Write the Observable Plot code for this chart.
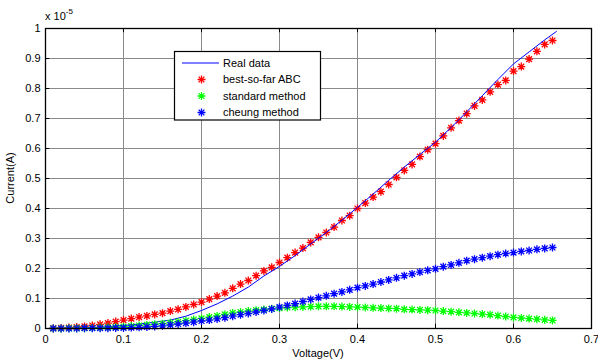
<!DOCTYPE html>
<html><head><meta charset="utf-8">
<script src="https://cdn.jsdelivr.net/npm/d3@7"></script>
<script src="https://cdn.jsdelivr.net/npm/@observablehq/plot@0.6"></script>
<style>body{margin:0;background:#fff} svg{display:block}</style>
</head><body><div id="chart"></div>
<script>
// Voltage samples (V) for the fitted series
const voltage = [0.01,0.02,0.03,0.04,0.05,0.06,0.07,0.08,0.09,0.10,0.11,0.12,0.13,0.14,0.15,0.16,0.17,0.18,0.19,0.20,0.21,0.22,0.23,0.24,0.25,0.26,0.27,0.28,0.29,0.30,0.31,0.32,0.33,0.34,0.35,0.36,0.37,0.38,0.39,0.40,0.41,0.42,0.43,0.44,0.45,0.46,0.47,0.48,0.49,0.50,0.51,0.52,0.53,0.54,0.55,0.56,0.57,0.58,0.59,0.60,0.61,0.62,0.63,0.64,0.65];
// Currents in units of 1e-5 A
const bestABC = [0.001,0.002,0.003,0.005,0.007,0.010,0.014,0.018,0.023,0.028,0.033,0.038,0.042,0.047,0.051,0.058,0.064,0.072,0.080,0.088,0.098,0.108,0.119,0.134,0.148,0.160,0.176,0.192,0.204,0.220,0.236,0.253,0.268,0.287,0.304,0.320,0.338,0.360,0.376,0.400,0.418,0.438,0.456,0.480,0.504,0.527,0.547,0.573,0.596,0.616,0.642,0.669,0.693,0.716,0.742,0.762,0.789,0.813,0.827,0.858,0.873,0.898,0.924,0.947,0.960];
const standard = [0.000,0.000,0.001,0.001,0.001,0.002,0.003,0.004,0.005,0.006,0.008,0.010,0.012,0.014,0.016,0.019,0.022,0.026,0.030,0.034,0.038,0.042,0.047,0.052,0.055,0.058,0.061,0.063,0.066,0.068,0.070,0.071,0.072,0.073,0.074,0.074,0.074,0.073,0.072,0.071,0.070,0.069,0.068,0.067,0.066,0.064,0.063,0.062,0.061,0.060,0.058,0.056,0.054,0.052,0.050,0.048,0.046,0.043,0.040,0.037,0.035,0.033,0.031,0.029,0.027];
const cheung = [0.000,0.000,0.000,0.000,0.001,0.001,0.001,0.001,0.002,0.002,0.003,0.004,0.005,0.007,0.009,0.012,0.015,0.018,0.021,0.025,0.028,0.032,0.036,0.041,0.046,0.050,0.055,0.060,0.065,0.071,0.077,0.083,0.090,0.097,0.103,0.109,0.116,0.122,0.129,0.136,0.142,0.148,0.155,0.162,0.169,0.176,0.182,0.188,0.194,0.199,0.206,0.212,0.219,0.226,0.231,0.236,0.241,0.246,0.250,0.253,0.257,0.260,0.264,0.267,0.270];
// Real (measured) data
const realV = [0,0.02,0.04,0.06,0.08,0.10,0.12,0.14,0.16,0.18,0.20,0.22,0.24,0.26,0.28,0.30,0.32,0.34,0.36,0.38,0.40,0.42,0.44,0.46,0.48,0.50,0.52,0.54,0.56,0.58,0.60,0.62,0.64,0.655];
const realI = [0,0.0005,0.001,0.003,0.006,0.010,0.015,0.021,0.028,0.041,0.060,0.082,0.108,0.138,0.175,0.207,0.243,0.282,0.320,0.361,0.404,0.448,0.494,0.538,0.580,0.621,0.670,0.722,0.776,0.830,0.882,0.922,0.962,0.990];
// Axis ticks
const xTicks = [0,0.1,0.2,0.3,0.4,0.5,0.6,0.7];
const xTickLabels = ["0","0.1","0.2","0.3","0.4","0.5","0.6","0.7"];
const yTicks = [0,0.1,0.2,0.3,0.4,0.5,0.6,0.7,0.8,0.9,1];
const yTickLabels = ["0","0.1","0.2","0.3","0.4","0.5","0.6","0.7","0.8","0.9","1"];
const legendLabels = ["Real data","best-so-far ABC","standard method","cheung method"];

const fontFamily = "'Liberation Sans', Arial, Helvetica, sans-serif";
const star = {draw(ctx, size){
  const r = Math.sqrt(size/Math.PI), d = r*0.72;
  ctx.moveTo(-r,0); ctx.lineTo(r,0);
  ctx.moveTo(0,-r); ctx.lineTo(0,r);
  ctx.moveTo(-d,-d); ctx.lineTo(d,d);
  ctx.moveTo(-d,d); ctx.lineTo(d,-d);
}};

const pts = (ys) => voltage.map((v,i) => ({v, c: ys[i]}));
const real = realV.map((v,i) => ({v, c: realI[i]}));
const gridColor = "#8a8a8a";

const plot = Plot.plot({
  width: 598, height: 363,
  marginLeft: 45, marginRight: 7, marginTop: 28, marginBottom: 35,
  x: {domain: [0, 0.7]},
  y: {domain: [0, 1]},
  style: {fontFamily, fontSize: "11px", background: "white", color: "black"},
  marks: [
    Plot.ruleX(xTicks, {x: d => d, y1: 0, y2: 1, stroke: gridColor, strokeWidth: 1}),
    Plot.ruleY(yTicks, {y: d => d, x1: 0, x2: 0.7, stroke: gridColor, strokeWidth: 1}),
    Plot.ruleX(xTicks, {x: d => d, y1: 0, y2: 0.014, stroke: "black"}),
    Plot.ruleX(xTicks, {x: d => d, y1: 1, y2: 0.986, stroke: "black"}),
    Plot.ruleY(yTicks, {y: d => d, x1: 0, x2: 0.0055, stroke: "black"}),
    Plot.ruleY(yTicks, {y: d => d, x1: 0.7, x2: 0.6945, stroke: "black"}),
    Plot.dot(pts(bestABC), {x: "v", y: "c", symbol: star, r: 4, stroke: "#ff0000", fill: "none", strokeWidth: 1.3}),
    Plot.line(real, {x: "v", y: "c", stroke: "#0000ff", strokeWidth: 1}),
    Plot.dot(pts(standard), {x: "v", y: "c", symbol: star, r: 4, stroke: "#00ff00", fill: "none", strokeWidth: 1.3}),
    Plot.dot(pts(cheung), {x: "v", y: "c", symbol: star, r: 4, stroke: "#0000ff", fill: "none", strokeWidth: 1.3}),
    Plot.frame({stroke: "black", strokeWidth: 1.3}),
    Plot.axisX(xTicks, {tickSize: 0, tickPadding: 7, fontSize: 11, label: null, tickFormat: d => xTickLabels[xTicks.indexOf(d)]}),
    Plot.axisY(yTicks, {tickSize: 0, tickPadding: 5, fontSize: 11, label: null, tickFormat: d => yTickLabels[yTicks.indexOf(d)]})
  ]
});
document.getElementById("chart").appendChild(plot);

const svg = d3.select(plot);
const g = svg.append("g").attr("font-family", fontFamily).attr("font-size", 11).attr("fill", "black");
// axis labels
g.append("text").attr("x", 318).attr("y", 357).attr("text-anchor", "middle").text("Voltage(V)");
g.append("text").attr("transform", "translate(14,178) rotate(-90)").attr("text-anchor", "middle").text("Current(A)");
// exponent
const ex = g.append("text").attr("x", 45).attr("y", 20).attr("text-anchor", "start");
ex.append("tspan").text("x 10");
ex.append("tspan").attr("font-size", 8).attr("dy", -6).text("-5");

// legend
const lg = svg.append("g").attr("font-family", fontFamily).attr("font-size", 11).attr("text-anchor", "start");
lg.append("rect").attr("x", 174.5).attr("y", 51.5).attr("width", 146).attr("height", 68.5)
  .attr("fill", "white").attr("stroke", "black").attr("stroke-width", 1.2);
const legendColors = ["#0000ff", "#ff0000", "#00ff00", "#0000ff"];
const starPath = (() => { const p = d3.path(); star.draw(p, 16*Math.PI); return p.toString(); })();
legendLabels.forEach((lab, i) => {
  const y = 63 + i*16.5;
  if (i === 0) {
    lg.append("line").attr("x1", 182).attr("x2", 219).attr("y1", y).attr("y2", y).attr("stroke", legendColors[i]);
  } else {
    lg.append("path").attr("d", starPath).attr("transform", `translate(201.5,${y})`)
      .attr("stroke", legendColors[i]).attr("fill", "none").attr("stroke-width", 1.3);
  }
  lg.append("text").attr("x", 223).attr("y", y).attr("dy", "0.36em").attr("text-anchor", "start").text(lab);
});
</script>
</body></html>
